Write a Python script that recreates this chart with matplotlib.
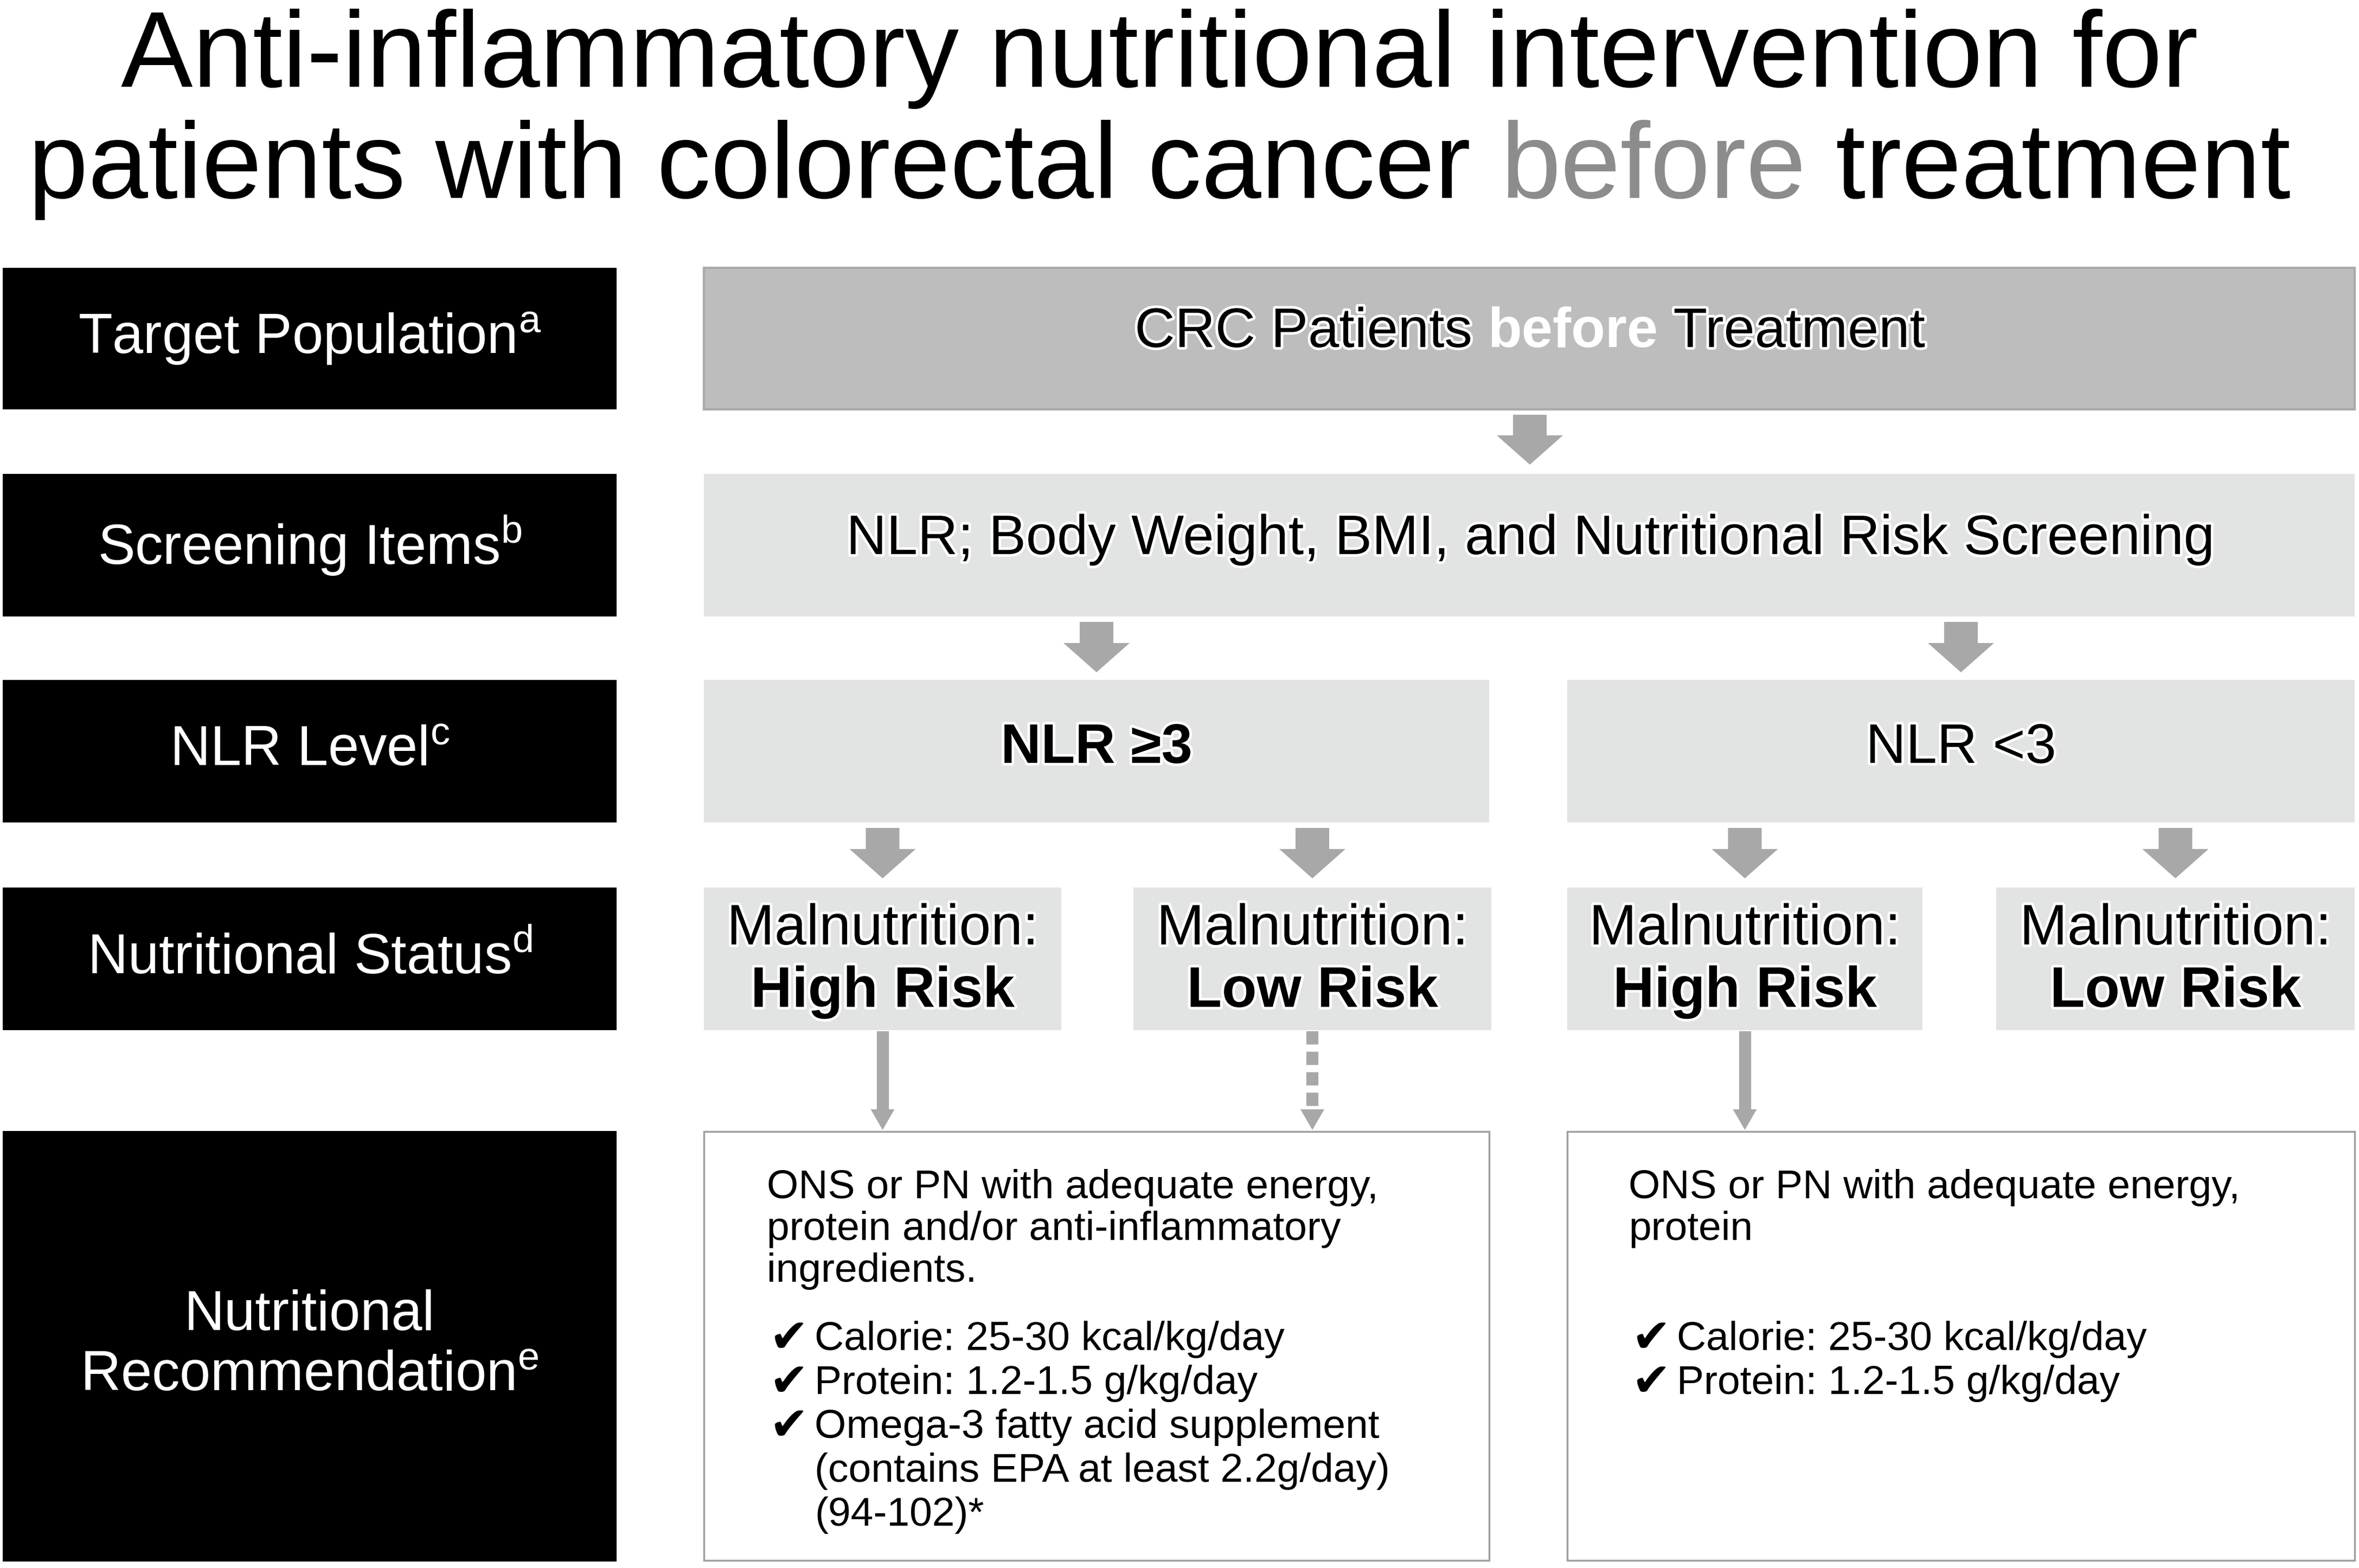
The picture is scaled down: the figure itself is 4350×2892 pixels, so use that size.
"""
Flowchart: anti-inflammatory nutritional intervention for CRC patients before treatment.
"""
import matplotlib
matplotlib.use("Agg")
import matplotlib.pyplot as plt
import matplotlib.patheffects as pe
from matplotlib.patches import Rectangle, FancyArrow

plt.rcParams["font.family"] = ["Liberation Sans", "DejaVu Sans"]
plt.rcParams["mathtext.fontset"] = "custom"
plt.rcParams["mathtext.rm"] = "Liberation Sans"
plt.rcParams["mathtext.it"] = "Liberation Sans:italic"
plt.rcParams["mathtext.bf"] = "Liberation Sans:bold"

W, H = 4350, 2892
DPI = 100

# --- content ---
title_line1 = "Anti-inflammatory nutritional intervention for"
title_line2 = [("patients with colorectal cancer", "black"), ("before", "#8c8c8c"), ("treatment", "black")]

row_labels = ["Target Population", "Screening Items", "NLR Level", "Nutritional Status",
              "Nutritional\nRecommendation"]
row_marks = ["a", "b", "c", "d", "e"]

target_parts = [("CRC Patients", "black", "normal"), ("before", "white", "bold"),
                ("Treatment", "black", "normal")]
screening_text = "NLR; Body Weight, BMI, and Nutritional Risk Screening"
nlr_texts = [("NLR \u22653", "bold"), ("NLR <3", "normal")]
status_top = "Malnutrition:"
status_risk = ["High Risk", "Low Risk", "High Risk", "Low Risk"]
rec_dashed = [False, True, False]   # arrows into recommendation boxes

rec_left_intro = ["ONS or PN with adequate energy,", "protein and/or anti-inflammatory",
                  "ingredients."]
rec_left_checks = [["Calorie: 25-30 kcal/kg/day"], ["Protein: 1.2-1.5 g/kg/day"],
                   ["Omega-3 fatty acid supplement", "(contains EPA at least 2.2g/day)",
                    "(94-102)*"]]
rec_right_intro = ["ONS or PN with adequate energy,", "protein"]
rec_right_checks = [["Calorie: 25-30 kcal/kg/day"], ["Protein: 1.2-1.5 g/kg/day"]]

# --- colours ---
DARK_BOX = "#bdbdbd"
LIGHT_BOX = "#e2e3e3"
ARROW = "#a8a8a8"
EDGE = "#a0a0a0"
GLOW = [pe.withStroke(linewidth=7, foreground="white")]

fig = plt.figure(figsize=(W / DPI, H / DPI), dpi=DPI)
ax = fig.add_axes([0, 0, 1, 1])
ax.set_xlim(0, W)
ax.set_ylim(H, 0)
ax.axis("off")
renderer = fig.canvas.get_renderer()


def box(x0, x1, y0, y1, fc, ec=None, lw=0):
    ax.add_patch(Rectangle((x0, y0), x1 - x0, y1 - y0, facecolor=fc,
                           edgecolor=ec if ec else fc, linewidth=lw))


def text_width(s, **kw):
    t = ax.text(0, 0, s, **kw)
    w = t.get_window_extent(renderer).width
    t.remove()
    return w


def parts_centered(parts, xc, y, size, va="baseline", effects=None):
    # parts: list of (text, color, weight); joined with single spaces
    sp = text_width("a a", fontsize=size) - text_width("aa", fontsize=size)
    widths = [text_width(s, fontsize=size, fontweight=wt) for s, c, wt in parts]
    total = sum(widths) + sp * (len(parts) - 1)
    x = xc - total / 2
    for (s, c, wt), w in zip(parts, widths):
        ax.text(x, y, s, fontsize=size, color=c, fontweight=wt, ha="left", va=va,
                path_effects=effects if c != "white" else None)
        x += w + sp


# --- title ---
TITLE_X = 2138
ax.text(TITLE_X, 160, title_line1, fontsize=143, ha="center", va="baseline")
parts_centered([(s, c, "normal") for s, c in title_line2], TITLE_X, 365, 143)

# --- left black labels ---
row_y = [(494, 755), (874, 1137), (1254, 1517), (1637, 1900), (2086, 2880)]
LEFT = (5, 1137)
for (y0, y1), lab, mk in zip(row_y, row_labels, row_marks):
    box(LEFT[0], LEFT[1], y0, y1, "black")
    ax.text((LEFT[0] + LEFT[1]) / 2, (y0 + y1) / 2, lab + "$^{\\mathregular{" + mk + "}}$",
            fontsize=74, color="white", ha="center", va="center", multialignment="center")

# --- row 1 / 2 ---
FULL = (1298, 4342)
box(FULL[0], FULL[1], 494, 755, DARK_BOX, "#a9a9a9", 3)
parts_centered(target_parts, 2821, 640, 74, effects=GLOW)

box(FULL[0], FULL[1], 874, 1137, LIGHT_BOX)
ax.text(2821, 1022, screening_text, fontsize=74, ha="center", va="baseline", path_effects=GLOW)

# --- row 3: NLR level ---
halves = [(1298, 2746), (2890, 4342)]
for (x0, x1), (s, wt) in zip(halves, nlr_texts):
    box(x0, x1, 1254, 1517, LIGHT_BOX)
    ax.text((x0 + x1) / 2, 1407, s, fontsize=74, fontweight=wt, ha="center", va="baseline",
            path_effects=GLOW)

# --- row 4: nutritional status ---
quarters = [(1298, 1957), (2090, 2750), (2890, 3545), (3681, 4342)]
for (x0, x1), risk in zip(quarters, status_risk):
    box(x0, x1, 1637, 1900, LIGHT_BOX)
    xc = (x0 + x1) / 2
    ax.text(xc, 1742, status_top, fontsize=76, ha="center", va="baseline", path_effects=GLOW)
    ax.text(xc, 1857, risk, fontsize=76, fontweight="bold", ha="center", va="baseline",
            path_effects=GLOW)


# --- block arrows ---
def block_arrow(xc, y0, y1):
    ax.add_patch(FancyArrow(xc, y0, 0, y1 - y0, width=62, head_width=122, head_length=54,
                            length_includes_head=True, color=ARROW, linewidth=0))


block_arrow(2821, 765, 857)
for (x0, x1) in halves:
    block_arrow((x0 + x1) / 2, 1147, 1240)
for (x0, x1) in quarters:
    block_arrow((x0 + x1) / 2, 1527, 1620)

# --- thin arrows into recommendations ---
for (x0, x1), dashed in zip(quarters[:3], rec_dashed):
    xc = (x0 + x1) / 2
    y_top, y_head, y_tip = 1902, 2046, 2084
    ax.plot([xc, xc], [y_top, y_head], color=ARROW, linewidth=16, solid_capstyle="butt",
            dash_capstyle="butt", linestyle=(0, (1.1, 0.6)) if dashed else "-")
    ax.fill([xc - 22, xc + 22, xc], [y_head, y_head, y_tip], color=ARROW, linewidth=0)

# --- recommendation boxes ---
for (x0, x1) in halves:
    box(x0, x1, 2087, 2878, "white", EDGE, 2.5)


def rec_text(x_text, x_check, x_item, intro, checks):
    base = [2210, 2287, 2364]
    for s, y in zip(intro, base):
        ax.text(x_text, y, s, fontsize=54, ha="left", va="baseline")
    y = 2490
    for item in checks:
        ax.text(x_check, y + 4, "\u2714", fontsize=62, family=["DejaVu Sans"],
                ha="left", va="baseline")
        for line in item:
            ax.text(x_item, y, line, fontsize=54, ha="left", va="baseline")
            y += 81


rec_text(1414, 1418, 1502, rec_left_intro, rec_left_checks)
rec_text(3003, 3008, 3092, rec_right_intro, rec_right_checks)

fig.savefig("out.png", dpi=DPI)
plt.close(fig)
